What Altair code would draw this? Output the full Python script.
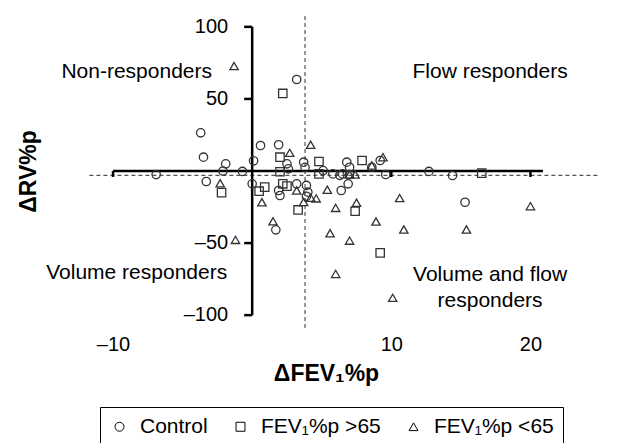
import altair as alt
import pandas as pd

FONT = "Liberation Sans"

groups = ["Control", "FEV₁%p >65", "FEV₁%p <65"]

ctrl_x = [-6.9, -3.7, -3.5, -3.3, -1.9, -2.1, -0.7, 0.1, 0.0, 0.6, 1.9, 1.9, 2.0, 1.7,
          2.5, 2.6, 3.2, 3.2, 3.7, 3.8, 3.9, 4.0, 3.9, 5.1, 5.8, 6.5, 6.8, 7.0, 7.0,
          6.9, 6.4, 8.6, 9.2, 9.6, 12.7, 14.4, 15.3, 6.3]
ctrl_y = [-2.5, 26.5, 9.6, -7.3, 5.0, 0.0, -0.3, 7.1, -8.9, 17.7, 18.2, -13.5, -17.0, -40.8,
          5.0, 1.5, 63.5, -8.9, 6.1, 2.5, -10.0, -14.7, -17.5, 0.3, -2.0, -2.0, 6.1, 2.6, -2.4,
          -8.9, -13.5, 2.6, 7.3, -2.4, -0.3, -3.1, -21.7, -3.0]

hi_x = [2.2, 2.0, 2.0, 4.8, 4.8, -2.2, 0.5, 0.9, 2.2, 2.5, 3.3, 7.9, 7.4, 9.2, 16.5]
hi_y = [53.8, 9.6, -0.5, 6.6, -2.0, -15.0, -14.0, -11.2, -8.9, -10.5, -27.0, 7.3, -27.9, -56.8, -1.5]

lo_x = [-1.3, -2.3, -1.2, 0.7, 1.5, 2.7, 4.2, 3.2, 3.7, 4.2, 4.6, 5.4, 6.0, 5.6, 6.0,
        7.0, 7.4, 7.5, 7.0, 8.6, 9.4, 8.9, 10.6, 10.9, 10.1, 15.4, 20.0]
lo_y = [72.8, -8.5, -47.8, -21.7, -34.9, 12.6, 18.2, -13.5, -21.5, -18.5, -19.0, -13.0, -25.6, -43.2, -71.4,
        -2.4, -2.4, -22.0, -48.3, 3.8, 9.6, -35.0, -18.8, -40.6, -88.0, -40.6, -24.4]

x_tick_vals = [-10, 10, 20]
y_tick_vals = [100, 50, -50, -100]
y_tick_labels = ["100", "50", "–50", "–100"]

ann_text = ["Non-responders", "Flow responders", "Volume responders", "Volume and flow\nresponders"]
ann_x = [-8.3, 17.1, -8.3, 17.1]
ann_y = [69, 69, -71, -72.2]

# reference lines (data coordinates)
solid_lines = pd.DataFrame({"x": [-10, 0], "x2": [20.9, 0], "y": [0, -100], "y2": [0, 100]})
dashed_lines = pd.DataFrame({"x": [-11.7, 3.8], "x2": [25.0, 3.8], "y": [-3.1, -109], "y2": [-3.1, 109]})

pts = pd.concat([
    pd.DataFrame({"x": ctrl_x, "y": ctrl_y, "group": groups[0]}),
    pd.DataFrame({"x": hi_x, "y": hi_y, "group": groups[1]}),
    pd.DataFrame({"x": lo_x, "y": lo_y, "group": groups[2]}),
])
xt = pd.DataFrame({"x": x_tick_vals, "y": [0] * len(x_tick_vals)})
yt = pd.DataFrame({"x": [0] * len(y_tick_vals), "y": y_tick_vals, "label": y_tick_labels})
ann = pd.DataFrame({"x": ann_x, "y": ann_y, "text": ann_text})

x_scale = alt.Scale(domain=[-11.8, 25.0], nice=False, zero=False)
y_scale = alt.Scale(domain=[-111, 111], nice=False, zero=False)

x_axis = alt.Axis(values=x_tick_vals, domain=False, ticks=False, grid=False,
                  labelExpr="datum.value < 0 ? '–' + format(-datum.value, 'd') : format(datum.value, 'd')",
                  labelFontSize=20, labelPadding=3, labelColor="black", labelFont=FONT,
                  title="ΔFEV₁%p", titleFontSize=23, titleFontWeight="bold", titleColor="black",
                  titleFont=FONT, titlePadding=8, titleX=238)
y_axis = alt.Axis(domain=False, ticks=False, labels=False, grid=False,
                  title="ΔRV%p", titleFontSize=23, titleFontWeight="bold", titleColor="black",
                  titleFont=FONT, titlePadding=48)


def X(f):
    return alt.X(f, type="quantitative", scale=x_scale, axis=x_axis)


def Y(f):
    return alt.Y(f, type="quantitative", scale=y_scale, axis=y_axis)


dashed = alt.Chart(dashed_lines).mark_rule(color="#555", strokeWidth=1.2, strokeDash=[4, 3]).encode(
    x=X("x"), x2="x2", y=Y("y"), y2="y2")
solid = alt.Chart(solid_lines).mark_rule(color="black", strokeWidth=2.5).encode(
    x=X("x"), x2="x2", y=Y("y"), y2="y2")
xticks = alt.Chart(xt).mark_rule(color="black", strokeWidth=2.5, y2Offset=6).encode(
    x=X("x"), x2="x", y=Y("y"), y2="y")
yticks = alt.Chart(yt).mark_rule(color="black", strokeWidth=2.5, x2Offset=-8).encode(
    x=X("x"), x2="x", y=Y("y"), y2="y")
ylabels = alt.Chart(yt).mark_text(align="right", baseline="middle", dx=-24, fontSize=20,
                                  font=FONT, color="black").encode(
    x=X("x"), y=Y("y"), text="label:N")
annot = alt.Chart(ann).mark_text(align="center", baseline="middle", fontSize=21, font=FONT,
                                 color="black", lineBreak="\n", lineHeight=26).encode(
    x=X("x"), y=Y("y"), text="text:N")

points = alt.Chart(pts).mark_point(filled=False, size=70, strokeWidth=1.3, color="#333", opacity=1).encode(
    x=X("x"), y=Y("y"),
    shape=alt.Shape("group:N", scale=alt.Scale(domain=groups, range=["circle", "square", "triangle-up"]),
                    legend=alt.Legend(title=None, orient="none", legendX=12, legendY=396,
                                      direction="horizontal", strokeColor="black", fillColor="white",
                                      padding=9, labelFontSize=21, labelFont=FONT, labelColor="black",
                                      symbolSize=80, symbolStrokeColor="black", symbolStrokeWidth=1,
                                      symbolFillColor="transparent",
                                      labelOffset=10, columnPadding=22, gridAlign="each")))

chart = alt.layer(dashed, solid, xticks, yticks, ylabels, annot, points).properties(
    width=512, height=320,
    autosize=alt.AutoSizeParams(type="none"),
    padding={"left": 80, "top": 3, "right": 15, "bottom": 115},
).configure(font=FONT).configure_view(stroke=None, strokeWidth=0)

chart.save("out.html", embed_options={"renderer": "svg", "actions": False})
